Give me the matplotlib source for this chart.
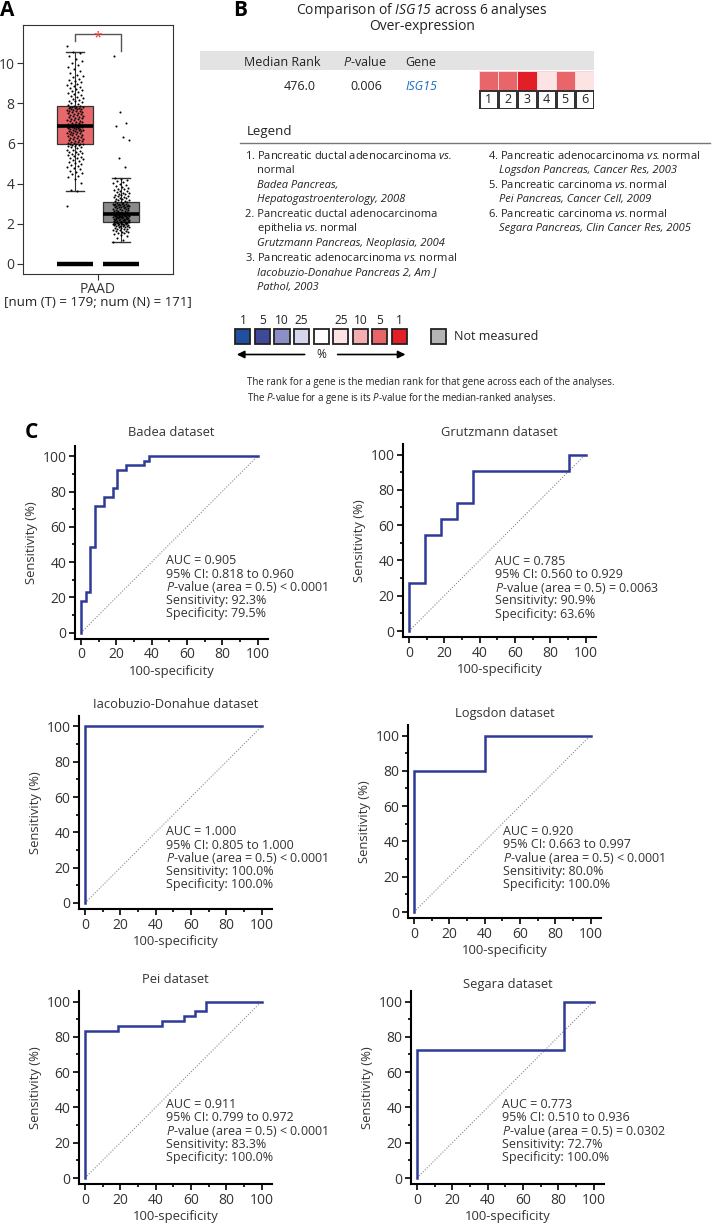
import matplotlib
matplotlib.use("Agg")
import matplotlib.pyplot as plt
import numpy as np
from matplotlib.colors import ListedColormap

# ---------------- data ----------------
# A: ISG15 expression, log2(TPM + 1), PAAD tumour vs normal
tumor_vals = [
    2.9, 3.65, 3.7, 4.05, 4.25, 4.35, 4.4, 4.5, 4.55, 4.6, 4.65, 4.75, 4.8, 4.85, 4.9, 4.95,
    5.0, 5.05, 5.1, 5.15, 5.2, 5.25, 5.3, 5.3, 5.35, 5.4, 5.45, 5.5, 5.5, 5.55, 5.6, 5.6,
    5.65, 5.7, 5.7, 5.75, 5.8, 5.8, 5.85, 5.85, 5.9, 5.9, 5.95, 5.95, 5.98, 5.99,
    6.0, 6.02, 6.05, 6.08, 6.1, 6.1, 6.15, 6.18, 6.2, 6.22, 6.25, 6.28, 6.3, 6.3, 6.35, 6.38,
    6.4, 6.42, 6.45, 6.48, 6.5, 6.5, 6.52, 6.55, 6.58, 6.6, 6.6, 6.62, 6.65, 6.65, 6.68, 6.7,
    6.7, 6.72, 6.75, 6.75, 6.78, 6.8, 6.8, 6.82, 6.83, 6.84, 6.85, 6.85,
    6.88, 6.9, 6.92, 6.95, 6.98, 7.0, 7.02, 7.05, 7.08, 7.1, 7.12, 7.15, 7.18, 7.2, 7.22, 7.25,
    7.28, 7.3, 7.32, 7.35, 7.38, 7.4, 7.42, 7.45, 7.48, 7.5, 7.52, 7.55, 7.58, 7.6, 7.6, 7.62,
    7.65, 7.68, 7.7, 7.7, 7.72, 7.75, 7.75, 7.78, 7.8, 7.8, 7.82, 7.84, 7.85,
    7.88, 7.9, 7.95, 8.0, 8.05, 8.1, 8.12, 8.18, 8.2, 8.25, 8.3, 8.35, 8.4, 8.45, 8.5, 8.55,
    8.6, 8.65, 8.7, 8.75, 8.8, 8.85, 8.9, 8.95, 9.0, 9.05, 9.1, 9.15, 9.2, 9.3, 9.35, 9.4,
    9.5, 9.6, 9.7, 9.8, 9.9, 10.0, 10.1, 10.2, 10.35, 10.5, 10.55, 10.85,
]
normal_vals = [
    1.1, 1.2, 1.3, 1.4, 1.45, 1.5, 1.52, 1.55, 1.58, 1.6, 1.62, 1.65, 1.68, 1.7, 1.72, 1.74,
    1.76, 1.78, 1.8, 1.82, 1.84, 1.85, 1.87, 1.88, 1.9, 1.91, 1.92, 1.94, 1.95, 1.96, 1.97,
    1.98, 1.99, 2.0, 2.0, 2.01, 2.02, 2.03, 2.04, 2.04,
    2.05, 2.06, 2.07, 2.08, 2.09, 2.1, 2.11, 2.12, 2.13, 2.14, 2.15, 2.16, 2.17, 2.18, 2.19,
    2.2, 2.21, 2.22, 2.23, 2.24, 2.25, 2.26, 2.27, 2.28, 2.29, 2.3, 2.31, 2.32, 2.33, 2.34,
    2.35, 2.35, 2.36, 2.37, 2.38, 2.38, 2.39, 2.4, 2.4, 2.41, 2.41, 2.42,
    2.43, 2.45, 2.46, 2.48, 2.5, 2.51, 2.53, 2.55, 2.56, 2.58, 2.6, 2.61, 2.63, 2.65, 2.66,
    2.68, 2.7, 2.71, 2.73, 2.75, 2.76, 2.78, 2.8, 2.81, 2.82, 2.84, 2.85, 2.86, 2.88, 2.89,
    2.9, 2.91, 2.92, 2.93, 2.94, 2.95, 2.96, 2.97, 2.98, 2.98, 2.99, 3.0,
    3.02, 3.05, 3.08, 3.1, 3.12, 3.15, 3.18, 3.2, 3.22, 3.25, 3.28, 3.3, 3.33, 3.35, 3.38,
    3.4, 3.42, 3.45, 3.48, 3.5, 3.52, 3.55, 3.6, 3.62, 3.65, 3.7, 3.72, 3.75, 3.8, 3.85,
    3.9, 3.95, 4.0, 4.05, 4.1, 4.15, 4.2, 4.25, 4.3,
    4.85, 5.3, 6.15, 6.3, 6.85, 7.0, 7.55, 10.35,
]
group_pos = [1, 2]
group_colors = ['#e8676b', '#8a8a8a']

# B: Oncomine summary
heat_pct = [5, 5, 1, 25, 5, 25]          # top-% bin of ISG15 in analyses 1..6
scale_pct = [1, 5, 10, 25, 0, 25, 10, 5, 1]
scale_labels = ['1', '5', '10', '25', '', '25', '10', '5', '1']
scale_colors = ['#1f4f9e', '#3e4a99', '#8c8fc6', '#d5d6ec', '#ffffff',
                '#fce3e4', '#f4aeb1', '#e8656a', '#e21e27']
not_measured_color = '#b4b4b4'
median_rank = '476.0'
p_value = '0.006'
gene = 'ISG15'

legend_left = [
    ('1. Pancreatic ductal adenocarcinoma $\\mathbf{vs.}$', 'normal', 0),
    ('normal', 'normal', 1),
    ('Badea Pancreas,', 'italic', 1),
    ('Hepatogastroenterology, 2008', 'italic', 1),
    ('2. Pancreatic ductal adenocarcinoma', 'normal', 0),
    ('epithelia $\\mathbf{vs.}$normal', 'normal', 1),
    ('Grutzmann Pancreas, Neoplasia, 2004', 'italic', 1),
    ('3. Pancreatic adenocarcinoma $\\mathbf{vs.}$normal', 'normal', 0),
    ('Iacobuzio-Donahue Pancreas 2, Am J', 'italic', 1),
    ('Pathol, 2003', 'italic', 1),
]
legend_right = [
    ('4. Pancreatic adenocarcinoma $\\mathbf{vs.}$normal', 'normal', 0),
    ('Logsdon Pancreas, Cancer Res, 2003', 'italic', 1),
    ('5. Pancreatic carcinoma $\\mathbf{vs.}$normal', 'normal', 0),
    ('Pei Pancreas, Cancer Cell, 2009', 'italic', 1),
    ('6. Pancreatic carcinoma $\\mathbf{vs.}$normal', 'normal', 0),
    ('Segara Pancreas, Clin Cancer Res, 2005', 'italic', 1),
]

# C: ROC curves (corner points of the staircase)
roc_titles = ['Badea dataset', 'Grutzmann dataset', 'Iacobuzio-Donahue dataset',
              'Logsdon dataset', 'Pei dataset', 'Segara dataset']
roc_fpr = [
    [0, 2.56, 5.13, 7.69, 12.82, 17.95, 20.51, 25.64, 35.90, 38.46, 100],
    [0, 9.09, 18.18, 27.27, 36.36, 90.91, 100],
    [0, 100],
    [0, 40, 100],
    [0, 18.75, 43.75, 56.25, 62.5, 68.75, 100],
    [0, 83.33, 100],
]
roc_tpr = [
    [0, 17.95, 23.08, 48.72, 71.79, 76.92, 82.05, 92.31, 94.87, 97.44, 100],
    [0, 27.27, 54.55, 63.64, 72.73, 90.91, 100],
    [0, 100],
    [0, 80, 100],
    [0, 83.33, 86.11, 88.89, 91.67, 94.44, 100],
    [0, 72.73, 100],
]
roc_auc = ['0.905', '0.785', '1.000', '0.920', '0.911', '0.773']
roc_ci = ['0.818 to 0.960', '0.560 to 0.929', '0.805 to 1.000',
          '0.663 to 0.997', '0.799 to 0.972', '0.510 to 0.936']
roc_p = ['< 0.0001', '= 0.0063', '< 0.0001', '< 0.0001', '< 0.0001', '= 0.0302']
roc_sens = ['92.3%', '90.9%', '100.0%', '80.0%', '83.3%', '72.7%']
roc_spec = ['79.5%', '63.6%', '100.0%', '100.0%', '100.0%', '100.0%']

# ---------------- layout ----------------
W, H = 712, 1224
plt.rcParams['font.family'] = ['Open Sans', 'DejaVu Sans']
plt.rcParams['mathtext.fontset'] = 'custom'
plt.rcParams['mathtext.rm'] = 'Open Sans'
plt.rcParams['mathtext.it'] = 'Open Sans:italic'
# \mathbf is used as a plain italic (keeps digits italic too)
plt.rcParams['mathtext.bf'] = 'Open Sans:italic'
TXT = '#222222'

fig = plt.figure(figsize=(W / 100, H / 100), dpi=100, facecolor='white')


def px_axes(l, t, r, b):
    return fig.add_axes([l / W, 1 - b / H, (r - l) / W, (b - t) / H])


def ftext(x, y, s, **kw):
    kw.setdefault('color', TXT)
    kw.setdefault('va', 'center')
    return fig.text(x / W, 1 - y / H, s, **kw)


# panel letters
ftext(7, 11, 'A', fontsize=15, fontweight='bold', ha='center', color='black')
ftext(240, 11, 'B', fontsize=15, fontweight='bold', ha='center', color='black')
ftext(31, 432, 'C', fontsize=15, fontweight='bold', ha='center', color='black')

# ---- A: box plot ----
axA = px_axes(23, 25, 173, 274)
bp = axA.boxplot([tumor_vals, normal_vals], positions=group_pos, widths=0.78,
                 patch_artist=True, showfliers=False, capwidths=0.4,
                 medianprops=dict(color='black', lw=2.6),
                 whiskerprops=dict(color='#333333', lw=0.8),
                 capprops=dict(color='#333333', lw=1.0),
                 boxprops=dict(edgecolor='#333333', lw=0.9))
for patch, c in zip(bp['boxes'], group_colors):
    patch.set_facecolor(c)
for pos, vals in zip(group_pos, [tumor_vals, normal_vals]):
    jit = ((np.arange(len(vals)) * 0.618034) % 1 - 0.5) * 0.36
    axA.scatter(pos + jit, vals, s=2.2, color='black', lw=0, zorder=4)
    axA.hlines(0, pos - 0.39, pos + 0.39, color='black', lw=3.2, zorder=4)
axA.plot([1, 1, 2, 2], [11.1, 11.45, 11.45, 10.6], color='#555555', lw=1)
axA.text(1.5, 11.25, '*', color='#ee3333', fontsize=11, ha='center', va='center')
axA.set_xlim(-0.13, 3.13)
axA.set_ylim(-0.5, 11.9)
axA.set_yticks([0, 2, 4, 6, 8, 10])
axA.set_xticks([1.5])
axA.set_xticklabels(['PAAD'])
axA.tick_params(labelsize=10, colors='#333333', length=4, pad=2)
for sp in axA.spines.values():
    sp.set_color('#333333')
ftext(98, 302, '[num (T) = %d; num (N) = %d]' % (len(tumor_vals), len(normal_vals)),
      fontsize=9.5, ha='center')

# ---- B: header ----
ftext(422, 10, 'Comparison of $\\mathbf{%s}$ across %d analyses' % (gene, len(heat_pct)),
      fontsize=10, ha='center')
ftext(422, 27, 'Over-expression', fontsize=10, ha='center')
hdr = px_axes(200, 51, 594, 70)
hdr.set_facecolor('#e3e3e3')
hdr.set_xticks([]); hdr.set_yticks([])
for sp in hdr.spines.values():
    sp.set_visible(False)
ftext(244, 62, 'Median Rank', fontsize=9)
ftext(343, 62, '$\\mathbf{P}$-value', fontsize=9)
ftext(405, 62, 'Gene', fontsize=9)
ftext(316, 86, median_rank, fontsize=9, ha='right')
ftext(382, 86, p_value, fontsize=9, ha='right')
ftext(405, 86, gene, fontsize=9, style='italic', color='#1a6cc4')

cmap = ListedColormap(scale_colors)
red_idx = {p: i for i, p in enumerate(scale_pct) if i > 4}
axH = px_axes(479, 71, 594, 90)
axH.pcolormesh(np.arange(len(heat_pct) + 1), [0, 1],
               np.array([[red_idx[p] for p in heat_pct]]), cmap=cmap,
               vmin=-0.5, vmax=len(scale_colors) - 0.5,
               edgecolors='#f6d8d8', linewidth=0.6)
axH.set_axis_off()
axN = px_axes(479, 90, 594, 109)
axN.pcolormesh(np.arange(len(heat_pct) + 1), [0, 1], np.zeros((1, len(heat_pct))),
               cmap=ListedColormap(['white']), edgecolors='#333333', linewidth=0.9)
for i in range(len(heat_pct)):
    axN.text(i + 0.5, 0.5, str(i + 1), ha='center', va='center', fontsize=9, color=TXT)
axN.set_xlim(0, len(heat_pct)); axN.set_ylim(0, 1)
axN.set_axis_off()

# ---- B: legend ----
ftext(247, 132, 'Legend', fontsize=9.5)
fig.add_artist(plt.Line2D([240 / W, 710 / W], [1 - 143 / H, 1 - 143 / H],
                          color='#777777', lw=1))
for k, (s, st, ind) in enumerate(legend_left):
    ftext(245 + 12 * ind, 156 + 14.6 * k, s, fontsize=8, style=st)
for k, (s, st, ind) in enumerate(legend_right):
    ftext(488 + 11 * ind, 156 + 14.6 * k, s, fontsize=8, style=st)

# colour scale
axS = px_axes(233.1, 329, 233.1 + 11 * 19.57, 344)
axS.bar(range(len(scale_colors)), 1, width=0.77, bottom=0, color=scale_colors,
        edgecolor='#222222', lw=1.3, clip_on=False)
axS.bar([10], 1, width=0.77, bottom=0, color=not_measured_color,
        edgecolor='#222222', lw=1.3, clip_on=False)
for i, lab in enumerate(scale_labels):
    axS.text(i, 1.6, lab, ha='center', va='center', fontsize=8.6, color=TXT)
axS.text(10.8, 0.5, 'Not measured', ha='left', va='center', fontsize=9, color=TXT)
axS.annotate('', xy=(-0.45, -0.7), xytext=(3.3, -0.7),
             arrowprops=dict(arrowstyle='-|>', color='black', lw=1.2,
                             mutation_scale=11), annotation_clip=False)
axS.annotate('', xy=(8.45, -0.7), xytext=(4.7, -0.7),
             arrowprops=dict(arrowstyle='-|>', color='black', lw=1.2,
                             mutation_scale=11), annotation_clip=False)
axS.text(4, -0.7, '%', ha='center', va='center', fontsize=8.6, color=TXT)
axS.set_xlim(-0.5, 10.5); axS.set_ylim(0, 1)
axS.set_axis_off()

ftext(247, 383, 'The rank for a gene is the median rank for that gene across each of the analyses.',
      fontsize=7)
ftext(247, 399, 'The $\\mathbf{P}$-value for a gene is its $\\mathbf{P}$-value for the median-ranked analyses.',
      fontsize=7)

# ---- C: ROC panels ----
roc_origin = [(81, 632.7), (409, 631), (85, 903), (414, 912), (85, 1178), (417, 1178)]
roc_text_xy = [(48.3, 40.7), (48.6, 39.5), (45.8, 40.3), (50.3, 45.5), (45.8, 41.5), (48, 41.5)]
title_pad = [7, 6, 6, 6, 6, 2]
S = 1.765
for i in range(6):
    X0, Y0 = roc_origin[i]
    ax = px_axes(X0 - 3.5 * S, Y0 - 106 * S, X0 + 106 * S, Y0 + 3.5 * S)
    ax.set_xlim(-3.5, 106); ax.set_ylim(-3.5, 106)
    ax.plot([0, 100], [0, 100], color='#888888', lw=0.8, ls=(0, (1, 1.5)))
    ax.step(roc_fpr[i], roc_tpr[i], where='pre', color='#2e3a97', lw=1.8,
            solid_joinstyle='miter')
    for sp in ['top', 'right']:
        ax.spines[sp].set_visible(False)
    for sp in ['left', 'bottom']:
        ax.spines[sp].set_linewidth(1.5)
    ax.set_xticks(range(0, 101, 20))
    ax.set_yticks(range(0, 101, 20))
    ax.set_xticks(range(10, 100, 20), minor=True)
    ax.set_yticks(range(10, 100, 20), minor=True)
    ax.tick_params(which='major', length=4, width=1.2, labelsize=10, labelcolor='#333333', pad=2)
    ax.tick_params(which='minor', length=2.5, width=1.2)
    ax.set_xlabel('100-specificity', fontsize=9.4, color='#333333', labelpad=2)
    ax.set_ylabel('Sensitivity (%)', fontsize=9.4, color='#333333', labelpad=3)
    ax.set_title(roc_titles[i], fontsize=9.3, color='#333333', pad=title_pad[i])
    tx, ty = roc_text_xy[i]
    lines = ['AUC = ' + roc_auc[i],
             '95% CI: ' + roc_ci[i],
             '$\\mathbf{P}$-value (area = 0.5) ' + roc_p[i],
             'Sensitivity: ' + roc_sens[i],
             'Specificity: ' + roc_spec[i]]
    for k, s in enumerate(lines):
        ax.text(tx, ty - 7.5 * k, s, fontsize=9, color='#333333', va='center')

fig.savefig('out.png', dpi=100, facecolor='white')
